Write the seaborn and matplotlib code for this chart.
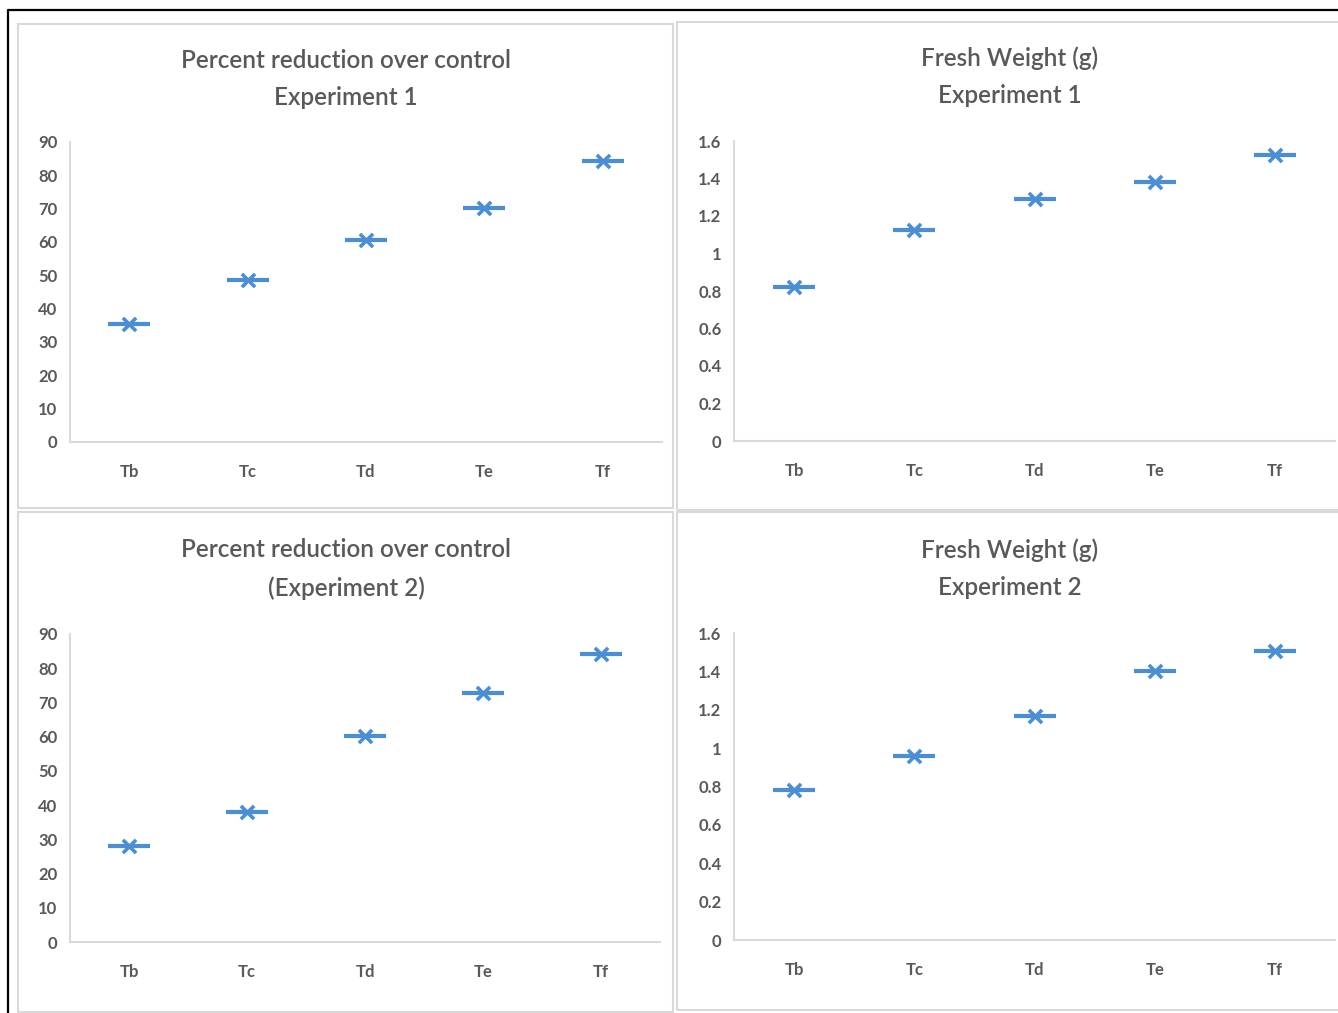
import numpy as np
import pandas as pd
import matplotlib
matplotlib.use("Agg")
import matplotlib.pyplot as plt
import seaborn as sns
from matplotlib.patches import Rectangle
from matplotlib.lines import Line2D

treatments = ["Tb", "Tc", "Td", "Te", "Tf"]
pct_exp1 = [35.5, 48.5, 60.5, 70.2, 84.3]
fw_exp1 = [0.82, 1.125, 1.29, 1.38, 1.525]
pct_exp2 = [28.0, 38.0, 60.2, 72.8, 84.2]
fw_exp2 = [0.78, 0.96, 1.17, 1.40, 1.505]

titles = [
    "Percent reduction over control\nExperiment 1",
    "Fresh Weight (g)\nExperiment 1",
    "Percent reduction over control\n(Experiment 2)",
    "Fresh Weight (g)\nExperiment 2",
]

sns.set_theme(style="white")
plt.rcParams["font.family"] = ["Lato", "DejaVu Sans"]

W, H = 1338, 1013
BLUE = "#4a8fd6"
GREY = "#595959"
LINE = "#d9d9d9"


def px(x0, y0, x1, y1):
    return [x0 / W, 1 - y1 / H, (x1 - x0) / W, (y1 - y0) / H]


fig = plt.figure(figsize=(W / 100, H / 100), dpi=100)

# panel frames
for (x0, y0, x1, y1) in [(18, 24, 673, 508), (677, 22, 1345, 510),
                         (18, 512, 673, 1012), (677, 512, 1345, 1010)]:
    fig.patches.append(Rectangle((x0 / W, 1 - y1 / H), (x1 - x0) / W, (y1 - y0) / H,
                                 transform=fig.transFigure, fill=False,
                                 edgecolor=LINE, linewidth=1.5))
# outer black frame
fig.lines.append(Line2D([8 / W, 8 / W, 1.0], [0.0, 1 - 10 / H, 1 - 10 / H],
                        transform=fig.transFigure, color="black", linewidth=1.6))

panels = [
    (pct_exp1, px(70, 142, 662, 442), 90, 10, (346, 79)),
    (fw_exp1, px(734, 141, 1335, 441), 1.6, 0.2, (1010, 77)),
    (pct_exp2, px(70, 634, 660, 942), 90, 10, (346, 569)),
    (fw_exp2, px(734, 633, 1335, 940), 1.6, 0.2, (1010, 569)),
]

for (vals, rect, ymax, step, tpos), title in zip(panels, titles):
    ax = fig.add_axes(rect)
    df = pd.DataFrame({"pos": np.arange(len(treatments)), "value": vals})
    sns.scatterplot(data=df, x="pos", y="value", marker="_", s=900,
                    linewidth=3.0, color=BLUE, ax=ax, zorder=3)
    sns.scatterplot(data=df, x="pos", y="value", marker="x", s=90,
                    linewidth=2.6, color=BLUE, ax=ax, zorder=4)
    ax.set_xlim(-0.5, len(treatments) - 0.5)
    ax.set_ylim(0, ymax)
    ticks = np.round(np.arange(0, ymax + step / 2, step), 2)
    ax.set_yticks(ticks)
    ax.set_yticklabels([f"{t:g}" for t in ticks])
    ax.set_xticks(range(len(treatments)))
    ax.set_xticklabels(treatments)
    ax.set_xlabel("")
    ax.set_ylabel("")
    for s in ["top", "right"]:
        ax.spines[s].set_visible(False)
    for s in ["left", "bottom"]:
        ax.spines[s].set_color(LINE)
        ax.spines[s].set_linewidth(1.5)
    ax.tick_params(axis="y", length=0, pad=9, labelsize=12, labelcolor=GREY)
    ax.tick_params(axis="x", length=0, pad=16, labelsize=12, labelcolor=GREY)
    for lab in ax.get_xticklabels() + ax.get_yticklabels():
        lab.set_fontweight("bold")
    fig.text(tpos[0] / W, 1 - tpos[1] / H, title, ha="center", va="center",
             fontsize=17.5, fontweight="semibold", color=GREY, linespacing=1.75,
             transform=fig.transFigure)

fig.savefig("out.png", dpi=100, facecolor="white")
